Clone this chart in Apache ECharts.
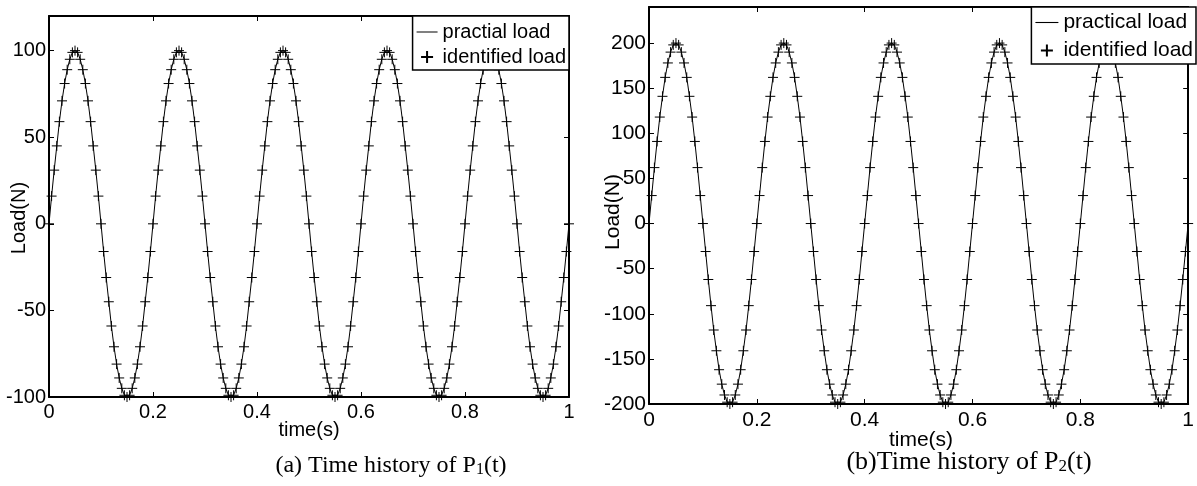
<!DOCTYPE html>
<html>
<head>
<meta charset="utf-8">
<script src="https://cdn.jsdelivr.net/npm/echarts@6/dist/echarts.min.js"></script>
<style>html,body{margin:0;padding:0;background:#fff}#c{width:1197px;height:486px}</style>
</head>
<body>
<div id="c"></div>
<script>
// sample times (s)
const timeS = [
0,0.005,0.01,0.015,0.02,0.025,0.03,0.035,0.04,0.045,0.05,0.055,0.06,0.065,0.07,0.075,0.08,0.085,0.09,0.095,
0.1,0.105,0.11,0.115,0.12,0.125,0.13,0.135,0.14,0.145,0.15,0.155,0.16,0.165,0.17,0.175,0.18,0.185,0.19,0.195,
0.2,0.205,0.21,0.215,0.22,0.225,0.23,0.235,0.24,0.245,0.25,0.255,0.26,0.265,0.27,0.275,0.28,0.285,0.29,0.295,
0.3,0.305,0.31,0.315,0.32,0.325,0.33,0.335,0.34,0.345,0.35,0.355,0.36,0.365,0.37,0.375,0.38,0.385,0.39,0.395,
0.4,0.405,0.41,0.415,0.42,0.425,0.43,0.435,0.44,0.445,0.45,0.455,0.46,0.465,0.47,0.475,0.48,0.485,0.49,0.495,
0.5,0.505,0.51,0.515,0.52,0.525,0.53,0.535,0.54,0.545,0.55,0.555,0.56,0.565,0.57,0.575,0.58,0.585,0.59,0.595,
0.6,0.605,0.61,0.615,0.62,0.625,0.63,0.635,0.64,0.645,0.65,0.655,0.66,0.665,0.67,0.675,0.68,0.685,0.69,0.695,
0.7,0.705,0.71,0.715,0.72,0.725,0.73,0.735,0.74,0.745,0.75,0.755,0.76,0.765,0.77,0.775,0.78,0.785,0.79,0.795,
0.8,0.805,0.81,0.815,0.82,0.825,0.83,0.835,0.84,0.845,0.85,0.855,0.86,0.865,0.87,0.875,0.88,0.885,0.89,0.895,
0.9,0.905,0.91,0.915,0.92,0.925,0.93,0.935,0.94,0.945,0.95,0.955,0.96,0.965,0.97,0.975,0.98,0.985,0.99,0.995,
1
];

// (a) P1(t), N
const practicalLoadA = [
0,16,31,45,59,71,81,89,95,99,100,99,95,89,81,71,59,45,31,16,
0,-16,-31,-45,-59,-71,-81,-89,-95,-99,-100,-99,-95,-89,-81,-71,-59,-45,-31,-16,
0,16,31,45,59,71,81,89,95,99,100,99,95,89,81,71,59,45,31,16,
0,-16,-31,-45,-59,-71,-81,-89,-95,-99,-100,-99,-95,-89,-81,-71,-59,-45,-31,-16,
0,16,31,45,59,71,81,89,95,99,100,99,95,89,81,71,59,45,31,16,
0,-16,-31,-45,-59,-71,-81,-89,-95,-99,-100,-99,-95,-89,-81,-71,-59,-45,-31,-16,
0,16,31,45,59,71,81,89,95,99,100,99,95,89,81,71,59,45,31,16,
0,-16,-31,-45,-59,-71,-81,-89,-95,-99,-100,-99,-95,-89,-81,-71,-59,-45,-31,-16,
0,16,31,45,59,71,81,89,95,99,100,99,95,89,81,71,59,45,31,16,
0,-16,-31,-45,-59,-71,-81,-89,-95,-99,-100,-99,-95,-89,-81,-71,-59,-45,-31,-16,
0
];
const identifiedLoadA = [
0,16,31,45,59,71,81,89,95,99,100,99,95,89,81,71,59,45,31,16,
0,-16,-31,-45,-59,-71,-81,-89,-95,-99,-100,-99,-95,-89,-81,-71,-59,-45,-31,-16,
0,16,31,45,59,71,81,89,95,99,100,99,95,89,81,71,59,45,31,16,
0,-16,-31,-45,-59,-71,-81,-89,-95,-99,-100,-99,-95,-89,-81,-71,-59,-45,-31,-16,
0,16,31,45,59,71,81,89,95,99,100,99,95,89,81,71,59,45,31,16,
0,-16,-31,-45,-59,-71,-81,-89,-95,-99,-100,-99,-95,-89,-81,-71,-59,-45,-31,-16,
0,16,31,45,59,71,81,89,95,99,100,99,95,89,81,71,59,45,31,16,
0,-16,-31,-45,-59,-71,-81,-89,-95,-99,-100,-99,-95,-89,-81,-71,-59,-45,-31,-16,
0,16,31,45,59,71,81,89,95,99,100,99,95,89,81,71,59,45,31,16,
0,-16,-31,-45,-59,-71,-81,-89,-95,-99,-100,-99,-95,-89,-81,-71,-59,-45,-31,-16,
0
];

// (b) P2(t), N
const practicalLoadB = [
0,31,62,91,118,141,162,178,190,198,200,198,190,178,162,141,118,91,62,31,
0,-31,-62,-91,-118,-141,-162,-178,-190,-198,-200,-198,-190,-178,-162,-141,-118,-91,-62,-31,
0,31,62,91,118,141,162,178,190,198,200,198,190,178,162,141,118,91,62,31,
0,-31,-62,-91,-118,-141,-162,-178,-190,-198,-200,-198,-190,-178,-162,-141,-118,-91,-62,-31,
0,31,62,91,118,141,162,178,190,198,200,198,190,178,162,141,118,91,62,31,
0,-31,-62,-91,-118,-141,-162,-178,-190,-198,-200,-198,-190,-178,-162,-141,-118,-91,-62,-31,
0,31,62,91,118,141,162,178,190,198,200,198,190,178,162,141,118,91,62,31,
0,-31,-62,-91,-118,-141,-162,-178,-190,-198,-200,-198,-190,-178,-162,-141,-118,-91,-62,-31,
0,31,62,91,118,141,162,178,190,198,200,198,190,178,162,141,118,91,62,31,
0,-31,-62,-91,-118,-141,-162,-178,-190,-198,-200,-198,-190,-178,-162,-141,-118,-91,-62,-31,
0
];
const identifiedLoadB = [
0,31,62,91,118,141,162,178,190,198,200,198,190,178,162,141,118,91,62,31,
0,-31,-62,-91,-118,-141,-162,-178,-190,-198,-200,-198,-190,-178,-162,-141,-118,-91,-62,-31,
0,31,62,91,118,141,162,178,190,198,200,198,190,178,162,141,118,91,62,31,
0,-31,-62,-91,-118,-141,-162,-178,-190,-198,-200,-198,-190,-178,-162,-141,-118,-91,-62,-31,
0,31,62,91,118,141,162,178,190,198,200,198,190,178,162,141,118,91,62,31,
0,-31,-62,-91,-118,-141,-162,-178,-190,-198,-200,-198,-190,-178,-162,-141,-118,-91,-62,-31,
0,31,62,91,118,141,162,178,190,198,200,198,190,178,162,141,118,91,62,31,
0,-31,-62,-91,-118,-141,-162,-178,-190,-198,-200,-198,-190,-178,-162,-141,-118,-91,-62,-31,
0,31,62,91,118,141,162,178,190,198,200,198,190,178,162,141,118,91,62,31,
0,-31,-62,-91,-118,-141,-162,-178,-190,-198,-200,-198,-190,-178,-162,-141,-118,-91,-62,-31,
0
];

const xRange = [0, 1], xStep = 0.2;
const yRangeA = [-100, 120], yRangeB = [-200, 240], yStep = 50;
const namesA = ['practial load', 'identified load'];
const namesB = ['practical load', 'identified load'];
const captionA = '(a) Time history of P{s|1}(t)';
const captionB = '(b)Time history of P{s|2}(t)';

const SANS = 'Liberation Sans, Arial, sans-serif';
const SERIF = 'Liberation Serif, Times New Roman, serif';
const pairs = (ys) => timeS.map((t, i) => [t, ys[i]]);
const plusSymbol = 'path://M0,5L10,5M5,0L5,10';
const dashIcon = 'path://M0,0H21V1H0Z';

function xAxis(grid, pos, labels, margin, fs) {
  return {
    type: 'value', gridIndex: grid, position: pos, min: xRange[0], max: xRange[1], interval: xStep,
    axisLine: { show: true, onZero: false, lineStyle: { color: '#000', width: 2 } },
    axisTick: { show: true, inside: true, length: 5, lineStyle: { color: '#000', width: 1 } },
    axisLabel: { show: labels, margin: margin, color: '#000', fontSize: fs, fontFamily: SANS },
    splitLine: { show: false }
  };
}
function yAxis(grid, pos, range, labels, fs) {
  return {
    type: 'value', gridIndex: grid, position: pos, min: range[0], max: range[1], interval: yStep,
    axisLine: { show: true, onZero: false, lineStyle: { color: '#000', width: 2 } },
    axisTick: { show: true, inside: true, length: 5, lineStyle: { color: '#000', width: 1 } },
    axisLabel: { show: labels, margin: 3, color: '#000', fontSize: fs, fontFamily: SANS,
      formatter: (v) => (v % yStep === 0 ? String(v) : '') },
    splitLine: { show: false }
  };
}
function lineSeries(name, xi, ys) {
  return { type: 'line', name: name, xAxisIndex: xi, yAxisIndex: xi, data: pairs(ys),
    symbol: 'none', lineStyle: { color: '#000', width: 1 }, itemStyle: { color: '#000' },
    silent: true, animation: false, z: 2 };
}
function markSeries(name, xi, ys) {
  return { type: 'scatter', name: name, xAxisIndex: xi, yAxisIndex: xi, data: pairs(ys),
    symbol: plusSymbol, symbolSize: 10,
    itemStyle: { color: 'rgba(0,0,0,0)', borderColor: '#000', borderWidth: 1, opacity: 1 },
    silent: true, animation: false, z: 3 };
}
function legend(names, right, top, pad, gap, iw, fs) {
  return {
    data: [{ name: names[0], icon: dashIcon }, { name: names[1] }],
    orient: 'vertical', right: right, top: top, selectedMode: false, symbolKeepAspect: true,
    backgroundColor: '#fff', borderColor: '#000', borderWidth: 1.5, borderRadius: 0,
    padding: pad, itemWidth: iw, itemHeight: 12, itemGap: gap,
    textStyle: { color: '#000', fontSize: fs, fontFamily: SANS }
  };
}
function caption(text, x, y, fs) {
  return { type: 'text', x: x, y: y, silent: true,
    style: { text: text, fill: '#000', fontSize: fs, fontFamily: SERIF, textAlign: 'center', textVerticalAlign: 'middle',
      rich: { s: { fontSize: Math.round(fs * 0.65), fontFamily: SERIF, fill: '#000', verticalAlign: 'bottom', lineHeight: 10 } } } };
}
function label(text, x, y, rot, fs) {
  return { type: 'text', x: x, y: y, rotation: rot || 0, silent: true,
    style: { text: text, fill: '#000', fontSize: fs, fontFamily: SANS, textAlign: 'center', textVerticalAlign: 'middle' } };
}

const chart = echarts.init(document.getElementById('c'), null, { renderer: 'canvas' });
chart.setOption({
  animation: false,
  backgroundColor: '#fff',
  grid: [
    { left: 49, top: 16, width: 520, height: 381 },
    { left: 649, top: 7, width: 547, height: 397 }
  ],
  xAxis: [xAxis(0, 'bottom', true, 5, 20), xAxis(0, 'top', false, 5, 20), xAxis(1, 'bottom', true, 6, 21), xAxis(1, 'top', false, 6, 21)],
  yAxis: [yAxis(0, 'left', yRangeA, true, 20), yAxis(0, 'right', yRangeA, false, 20), yAxis(1, 'left', yRangeB, true, 21), yAxis(1, 'right', yRangeB, false, 21)],
  series: [
    lineSeries(namesA[0], 0, practicalLoadA),
    markSeries(namesA[1], 0, identifiedLoadA),
    lineSeries(namesB[0], 2, practicalLoadB),
    markSeries(namesB[1], 2, identifiedLoadB)
  ],
  legend: [
    legend(namesA, 1197 - 569, 16, [6, 3, 3, 4], 5, 21, 20),
    legend(namesB, 1, 7, [5, 3, 3, 4], 7, 23, 21)
  ],
  graphic: [
    label('Load(N)', 19, 218, Math.PI / 2, 20),
    label('Load(N)', 613, 212, Math.PI / 2, 21),
    label('time(s)', 309, 430, 0, 20),
    label('time(s)', 921, 440, 0, 21),
    caption(captionA, 391, 466, 24),
    caption(captionB, 969, 462, 26)
  ]
});
</script>
</body>
</html>
